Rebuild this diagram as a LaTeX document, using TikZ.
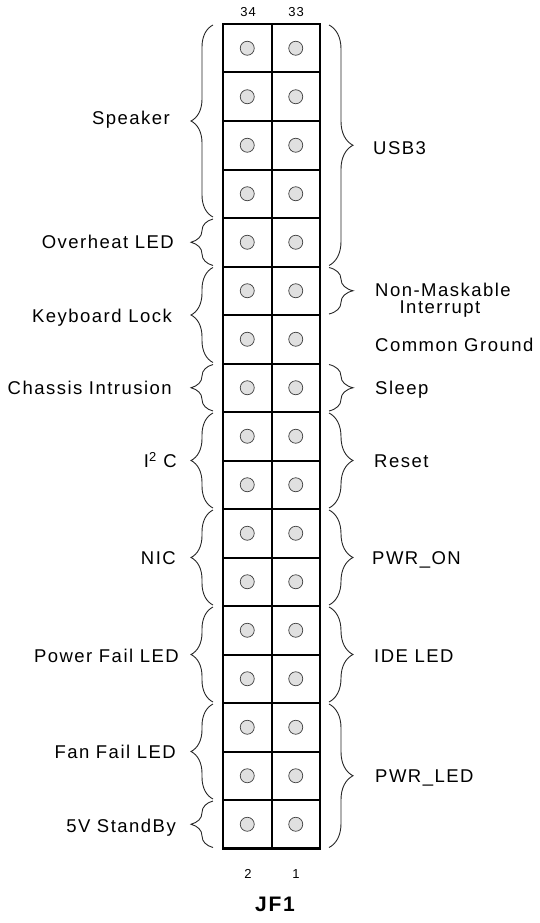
\documentclass[tikz,border=0pt]{standalone}
\usepackage{fontspec}
\setmainfont{Liberation Sans}
\newfontfamily\labfont{Liberation Sans}[LetterSpace=8]
\usetikzlibrary{decorations.pathreplacing}
\begin{document}
\begin{tikzpicture}[x=1pt,y=-1pt,
  pinc/.style={circle, draw=black!75, fill=black!12, line width=0.7pt, minimum size=14pt, inner sep=0pt},
  lbl/.style={font=\labfont\fontsize{18.5}{21}\selectfont, inner sep=0pt, text height=13.2pt, text depth=0pt},
  num/.style={font=\labfont\fontsize{13}{15}\selectfont, inner sep=0pt},
  lbrace/.style={decorate, decoration={brace, amplitude=22pt}, draw=black!85, line width=0.9pt},
  rbrace/.style={decorate, decoration={brace, amplitude=24pt}, draw=black!85, line width=0.9pt},
  gridline/.style={line width=2pt},
]
\useasboundingbox (0,0) rectangle (540,923);
% grid
\foreach \k in {1,...,16} {
  \draw[gridline] (223,{24+48.5*\k}) -- (320,{24+48.5*\k});
}
\draw[gridline] (271.5,24) -- (271.5,848.5);
\draw[line width=2.5pt] (223,24) rectangle (320,848.5);
% pins
\foreach \i in {1,...,17} {
  \pgfmathtruncatemacro\L{36-2*\i}
  \pgfmathtruncatemacro\R{35-2*\i}
  \node[pinc] (p\L) at (247.25,{24+48.5*(\i-0.5)}) {};
  \node[pinc] (p\R) at (295.75,{24+48.5*(\i-0.5)}) {};
}
% left braces (rows a..b)
\foreach \a/\b in {1/4,5/5,6/7,8/8,9/10,11/12,13/14,15/16,17/17} {
  \draw[lbrace] (213,{24+48.5*\b-1}) -- (213,{24+48.5*(\a-1)+1});
}
% right braces
\foreach \a/\b in {1/5,6/6,8/8,9/10,11/12,13/14,15/17} {
  \draw[rbrace] (329,{24+48.5*(\a-1)+1}) -- (329,{24+48.5*\b-1});
}
% left labels
\node[lbl, anchor=east] (speaker) at (170,118) {Speaker};
\node[lbl, anchor=east] (overheat) at (174,242) {Overheat LED};
\node[lbl, anchor=east] (kbd) at (172,316) {Keyboard Lock};
\node[lbl, anchor=east] (chassis) at (172,388) {Chassis Intrusion};
\node[lbl, anchor=east] (i2c) at (177,461) {I\textsuperscript{2} C};
\node[lbl, anchor=east] (nic) at (176,558) {NIC};
\node[lbl, anchor=east] (pfail) at (179,656) {Power Fail LED};
\node[lbl, anchor=east] (ffail) at (176,752) {Fan Fail LED};
\node[lbl, anchor=east] (sb) at (176,826) {5V StandBy};
% right labels
\node[lbl, anchor=west] (usb) at (373,148) {USB3};
\node[lbl, anchor=west] (nmi1) at (375,290) {Non-Maskable};
\node[lbl] (nmi2) at (440,307) {Interrupt};
\node[lbl, anchor=west] (gnd) at (375,345) {Common Ground};
\node[lbl, anchor=west] (sleep) at (375,388) {Sleep};
\node[lbl, anchor=west] (reset) at (374,461) {Reset};
\node[lbl, anchor=west] (pwron) at (372,558) {PWR\_ON};
\node[lbl, anchor=west] (ide) at (374,656) {IDE LED};
\node[lbl, anchor=west] (pwrled) at (375,776) {PWR\_LED};
% pin numbers
\node[num] (n34) at (248,12) {34};
\node[num] (n33) at (296,12) {33};
\node[num] (n2) at (248,874) {2};
\node[num] (n1) at (296,874) {1};
\node[font=\labfont\bfseries\fontsize{21}{24}\selectfont, inner sep=0pt] (jf1) at (275,904) {JF1};
\end{tikzpicture}
\end{document}
